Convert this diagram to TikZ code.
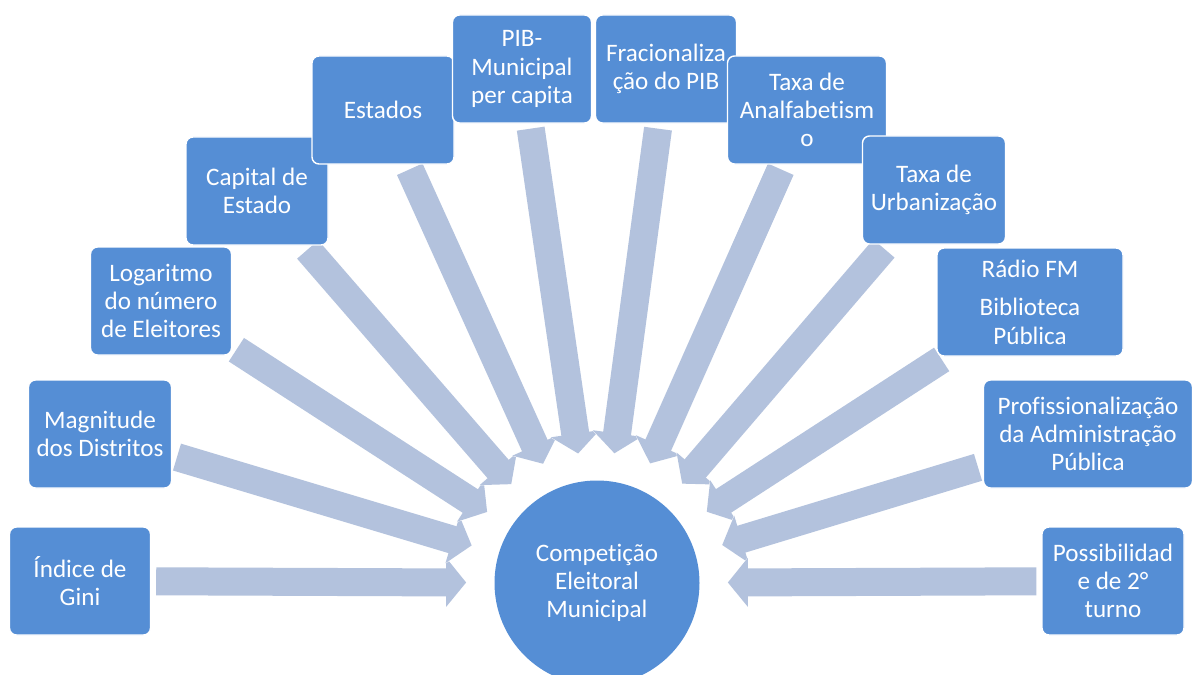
\documentclass[tikz,border=0pt]{standalone}
\usepackage{fontspec}
\setmainfont{Carlito}[Ligatures=CommonOff]
\usetikzlibrary{arrows.meta,backgrounds}
\definecolor{boxblue} {HTML}{558ED5}
\definecolor{flowgrey}{HTML}{B3C2DD}
\newcommand{\boxfont}{\fontsize{14.3}{16}\selectfont}

\begin{document}
\begin{tikzpicture}[x=0.2mm, y=-0.2mm, font=\boxfont,
  factor/.style={draw=white, line width=0.8pt, fill=boxblue, text=white,
                 rounded corners=1.4mm, align=center, minimum height=21.6mm,
                 inner sep=1mm},
  flowedge/.style={white, line width=6mm,
                   -{Triangle[width=10.2mm,length=4.5mm]},
                   shorten <=0.8mm, shorten >=5.3mm},
  flow/.style={flowgrey, line width=5.6mm,
               -{Triangle[width=9.6mm,length=4mm]},
               shorten <=1mm, shorten >=5.6mm}]
  \useasboundingbox (0,0) rectangle (1192,675);
  \node[circle, fill=boxblue, text=white, minimum size=41mm, align=center]
        (comp) at (597,583) {Competição\\Eleitoral\\Municipal};
  \foreach \nm/\x/\y/\w/\txt in {
     gini/80/581/141/{Índice de\\Gini},
     magn/100/434/143/{Magnitude\\dos Distritos},
     loga/161/301/141/{Logaritmo\\do número\\de Eleitores},
     capi/257/191/142/{Capital de\\Estado},
     esta/383/110/142/{Estados},
     pibm/522/69/139/{PIB-\\Municipal\\per capita},
     frac/666/69/141/{Fracionaliza\\ção do PIB},
     anal/807/110/159/{Taxa de\\Analfabetism\\o},
     urba/934/190/143/{Taxa de\\Urbanização},
     radi/1030/302/186/{Rádio FM\\[6pt]Biblioteca\\Pública},
     prof/1088/434/209/{Profissionalização\\da Administração\\Pública},
     poss/1113/581/142/{Possibilidad\\e de 2°\\turno}} {
    \node[factor, minimum width=\w*0.2mm] (\nm) at (\x,\y) {\txt};
  }
  \begin{scope}[on background layer]
    \foreach \nm in {gini,magn,loga,capi,esta,pibm,frac,anal,urba,radi,prof,poss} {
      \draw[flowedge] (\nm) -- (comp);
      \draw[flow] (\nm) -- (comp);
    }
  \end{scope}
\end{tikzpicture}
\end{document}
